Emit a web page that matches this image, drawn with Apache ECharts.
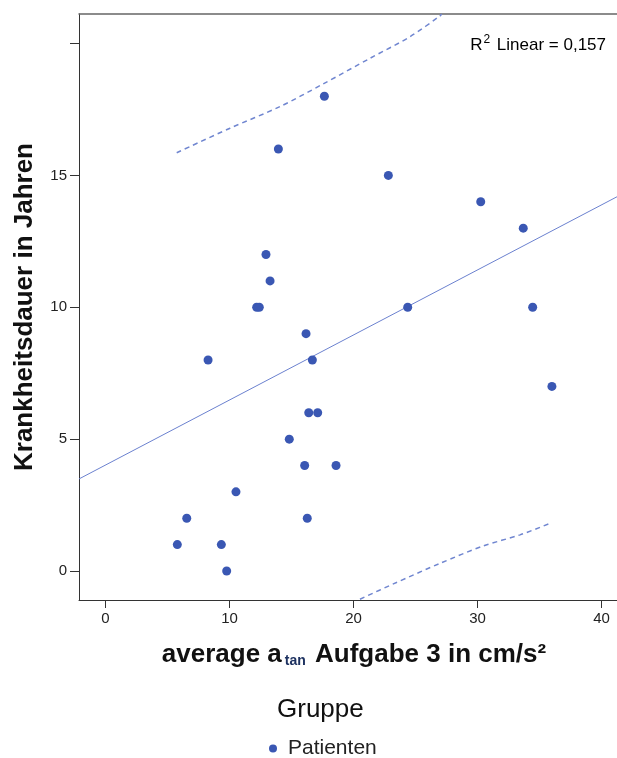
<!DOCTYPE html>
<html>
<head>
<meta charset="utf-8">
<script src="https://cdn.jsdelivr.net/npm/echarts@6/dist/echarts.min.js"></script>
<style>
  html, body { margin: 0; padding: 0; background: #fff; }
  #chart { width: 617px; height: 758px; }
</style>
</head>
<body>
<div id="chart"></div>
<script>
// values
const xValues = [5.79, 6.55, 8.27, 9.34, 9.77, 10.52, 12.19, 12.4, 12.94, 13.27, 13.94, 14.82, 16.06,
  16.17, 16.27, 16.39, 16.68, 17.11, 17.65, 18.59, 22.81, 24.37, 30.26, 33.69, 34.45, 36.0]
const yValues = [1, 2, 8, 1, 0, 3, 10, 10, 12, 11, 16, 5, 4,
  9, 2, 6, 8, 6, 18, 4, 15, 10, 14, 13, 10, 7]

const fitX = [-2.14, 41.25]
const fitY = [3.49, 14.19]

const upperX = [5.74, 10.04, 14.07, 17.56, 21.33, 24.56, 26.98, 27.11]
const upperY = [15.86, 16.79, 17.61, 18.47, 19.44, 20.26, 21.05, 21.12]
const lowerX = [20.52, 23.21, 26.98, 30.47, 33.43, 35.98]
const lowerY = [-1.07, -0.49, 0.29, 0.95, 1.37, 1.83]

const xRange = [-2.14, 41.25]
const yRange = [-1.1, 21.12]
const xTicks = [0, 10, 20, 30, 40]
const yTicks = [0, 5, 10, 15, 20]
const yLabels = [0, 5, 10, 15]

const font = '"Liberation Sans", Arial, sans-serif'
const pairs = (xs, ys) => xs.map((x, i) => [x, ys[i]])

const chart = echarts.init(document.getElementById('chart'))

chart.setOption({
  animation: false,
  textStyle: { fontFamily: font },
  grid: { left: 79, right: 0, top: 14, bottom: 158 },
  title: {
    text: 'Gruppe',
    left: 272,
    top: 692,
    textStyle: { fontFamily: font, fontSize: 26, fontWeight: 'normal', color: '#111' }
  },
  legend: {
    data: ['Patienten'],
    left: 264,
    top: 733,
    icon: 'circle',
    itemWidth: 20,
    itemHeight: 8,
    textStyle: { fontFamily: font, fontSize: 21, color: '#222' }
  },
  graphic: [{
    type: 'text',
    right: 11,
    top: 34,
    style: {
      text: '{a|R}{s|2}{a| Linear = 0,157}',
      rich: {
        a: { fontFamily: font, fontSize: 17, color: '#222', verticalAlign: 'bottom' },
        s: { fontFamily: font, fontSize: 12, color: '#222', padding: [0, 2, 8, 1] }
      }
    }
  }],
  xAxis: [{
    type: 'value',
    min: xRange[0],
    max: xRange[1],
    name: '{b|average a}{sub|tan}{b| Aufgabe 3 in cm/s²}',
    nameLocation: 'middle',
    nameGap: 42,
    nameTextStyle: {
      padding: [0, 0, 0, 12],
      rich: {
        b: { fontFamily: font, fontSize: 26, fontWeight: 'bold', color: '#111' },
        sub: { fontFamily: font, fontSize: 14, fontWeight: 'bold', color: '#1d3160', padding: [12, 2, 0, 3] }
      }
    },
    axisLine: { onZero: false, lineStyle: { color: '#333', width: 1 } },
    axisTick: { customValues: xTicks, length: 8, lineStyle: { color: '#333' } },
    axisLabel: { customValues: xTicks, margin: 11, fontSize: 15, color: '#222' },
    splitLine: { show: false }
  }, {
    type: 'value',
    position: 'top',
    min: xRange[0],
    max: xRange[1],
    axisLine: { onZero: false, lineStyle: { color: '#666', width: 1.5 } },
    axisTick: { show: false },
    axisLabel: { show: false },
    splitLine: { show: false }
  }],
  yAxis: {
    type: 'value',
    min: yRange[0],
    max: yRange[1],
    name: 'Krankheitsdauer in Jahren',
    nameLocation: 'middle',
    nameGap: 41,
    nameTextStyle: { fontFamily: font, fontSize: 26, fontWeight: 'bold', color: '#111' },
    axisLine: { show: true, onZero: false, lineStyle: { color: '#333', width: 1 } },
    axisTick: { customValues: yTicks, length: 9, lineStyle: { color: '#333' } },
    axisLabel: { customValues: yLabels, margin: 12, fontSize: 15, color: '#222' },
    splitLine: { show: false }
  },
  series: [
    {
      name: 'fit',
      type: 'line',
      data: pairs(fitX, fitY),
      symbol: 'none',
      silent: true,
      lineStyle: { color: '#6b81cf', width: 1 },
      z: 2
    },
    {
      name: 'upper',
      type: 'line',
      data: pairs(upperX, upperY),
      symbol: 'none',
      smooth: 0.3,
      silent: true,
      lineStyle: { color: '#7086d0', width: 1.5, type: [5, 4] },
      z: 2
    },
    {
      name: 'lower',
      type: 'line',
      data: pairs(lowerX, lowerY),
      symbol: 'none',
      smooth: 0.3,
      silent: true,
      lineStyle: { color: '#7086d0', width: 1.5, type: [5, 4] },
      z: 2
    },
    {
      name: 'Patienten',
      type: 'scatter',
      data: pairs(xValues, yValues),
      symbolSize: 9,
      itemStyle: { color: '#3a57b3', opacity: 1 },
      z: 3
    }
  ]
})
</script>
</body>
</html>
